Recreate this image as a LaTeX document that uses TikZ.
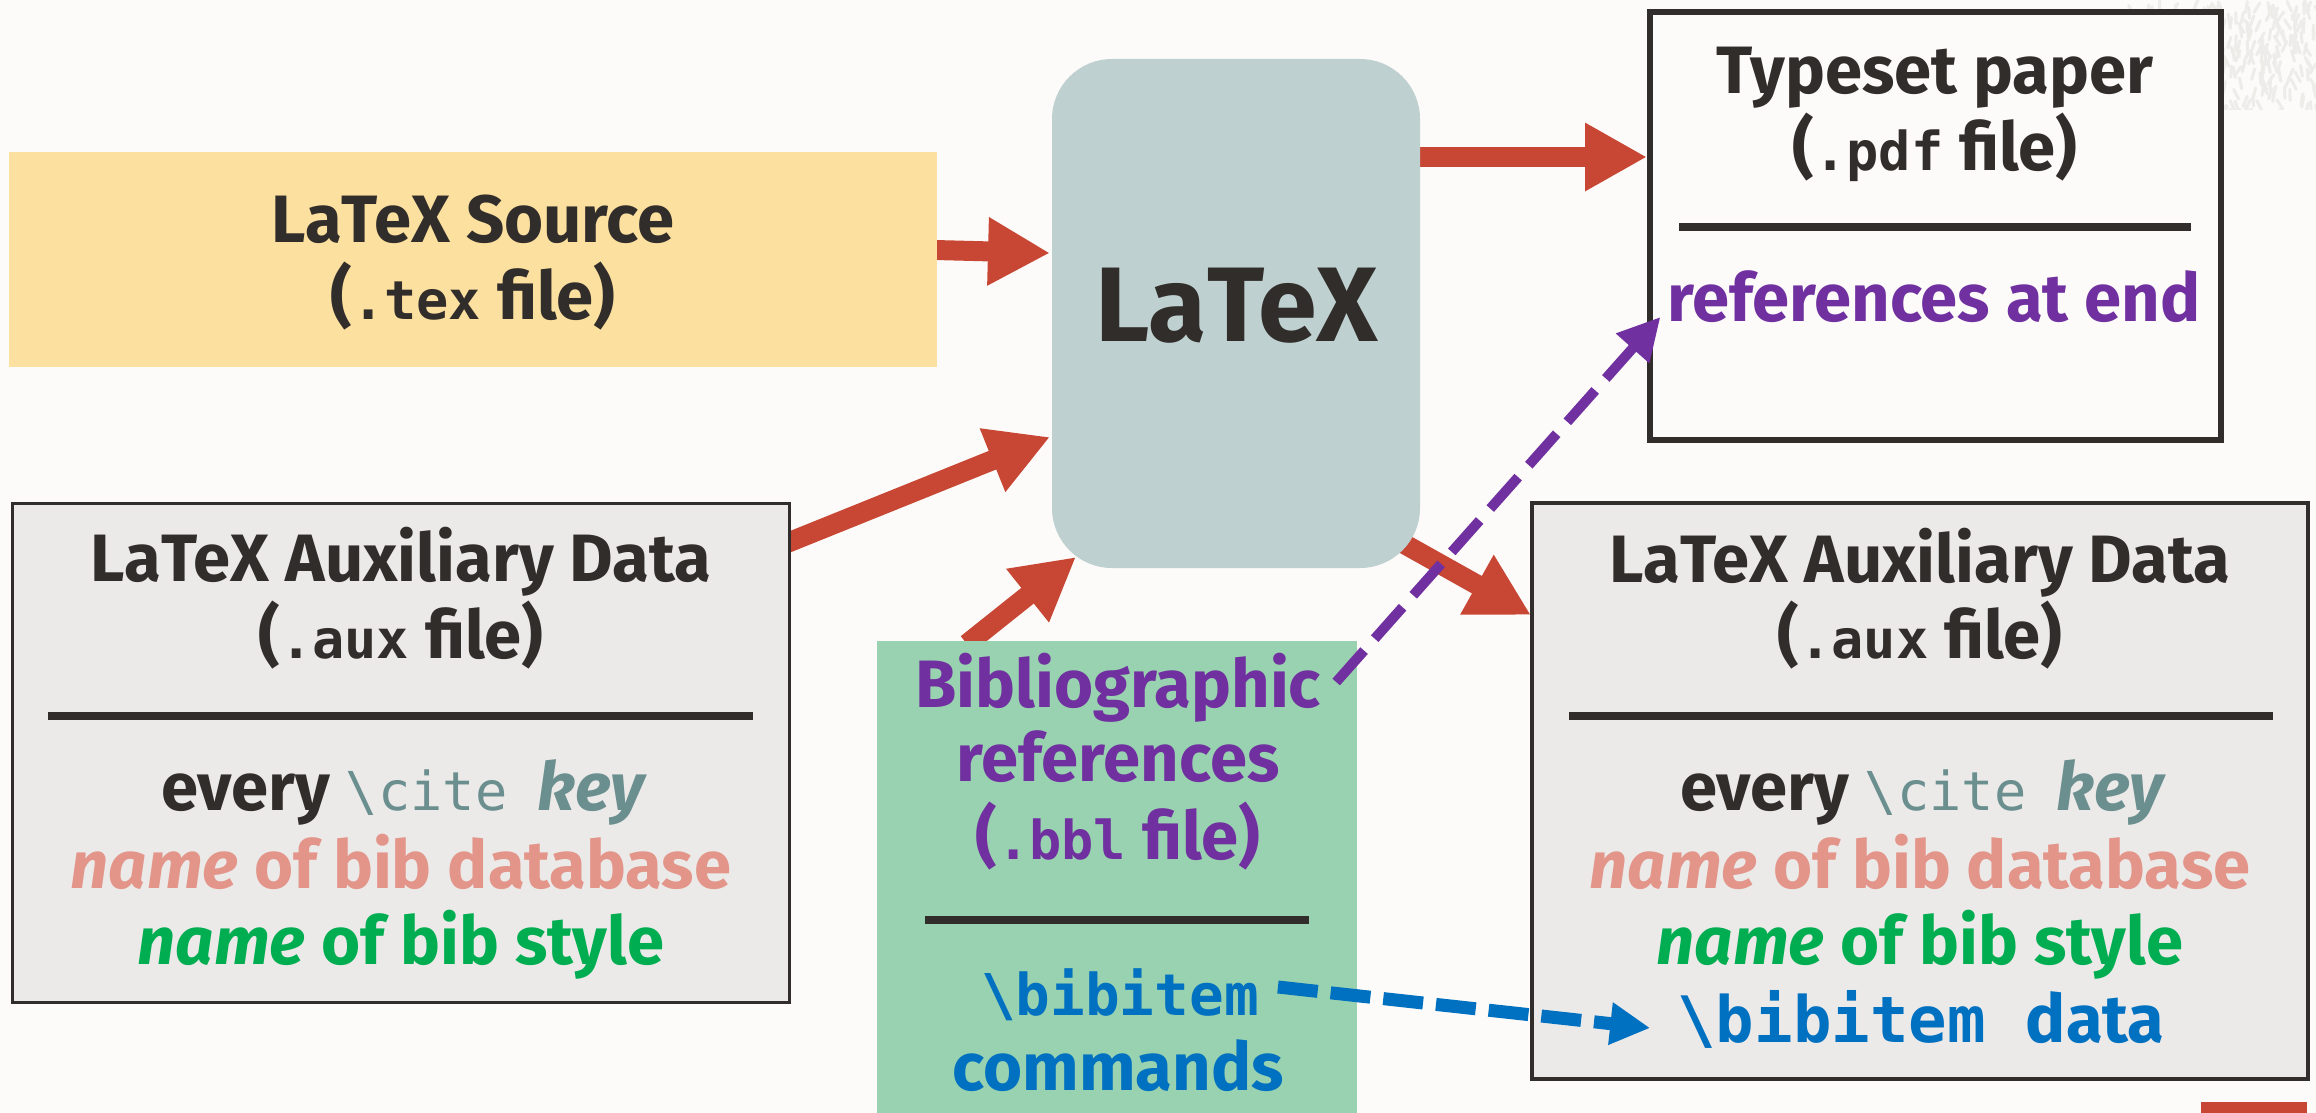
\documentclass[tikz,border=0pt]{standalone}
\usepackage{fontspec}
\setmainfont{Fira Sans}
\setmonofont{DejaVu Sans Mono}[Scale=0.8]
\usetikzlibrary{arrows.meta,calc}
\definecolor{bgc}{HTML}{FCFBF9}
\definecolor{yellowc}{HTML}{FCE09F}
\definecolor{latexc}{HTML}{BFD0D0}
\definecolor{greyc}{HTML}{EBEAE9}
\definecolor{greenc}{HTML}{99D2B0}
\definecolor{redc}{HTML}{C84634}
\definecolor{darkc}{HTML}{312D2A}
\definecolor{tealc}{HTML}{6B8E8E}
\definecolor{salmonc}{HTML}{E3958A}
\definecolor{greentc}{HTML}{00AD50}
\definecolor{bluec}{HTML}{0070C0}
\definecolor{purplec}{HTML}{7030A0}
\definecolor{texc}{HTML}{EEECE9}
\pgfdeclarelayer{back}
\pgfdeclarelayer{arr}
\pgfsetlayers{back,arr,main}
\begin{document}
\begin{tikzpicture}[x=1pt,y=-1pt,
  boxn/.style={rectangle,inner sep=0pt,outer sep=0pt,anchor=north west},
  txt/.style={anchor=base,inner sep=0pt,text=darkc,font=\fontsize{67}{80}\selectfont\bfseries},
  rulel/.style={darkc,line width=8pt},
  redarrow/.style={redc,line width=20pt,-{Triangle[length=62pt,width=64pt]}},
  purparrow/.style={purplec,line width=10pt,dash pattern=on 42pt off 16pt,-{Triangle[length=42pt,width=42pt]}},
  bluearrow/.style={bluec,line width=13pt,dash pattern=on 40pt off 13pt,-{Triangle[length=40pt,width=40pt]}}
]
\begin{pgfonlayer}{back}
\fill[bgc] (0,0) rectangle (2316,1113);
\begin{scope}
\clip (2125,0) rectangle (2316,110);
\pgfmathsetseed{7}
\foreach \i in {1,...,320} {
  \pgfmathsetmacro\xx{2125+rnd*191}
  \pgfmathsetmacro\yy{rnd*110}
  \pgfmathsetmacro\aa{55+rnd*70}
  \draw[texc,line width=3pt,line cap=round] (\xx,\yy) -- ++(\aa:11);
}
\end{scope}
\end{pgfonlayer}
\useasboundingbox (0,0) rectangle (2316,1113);

% boxes
\node[boxn,fill=yellowc,minimum width=928pt,minimum height=215pt] (src) at (9,152) {};
\node[boxn,fill=latexc,rounded corners=60pt,minimum width=368pt,minimum height=509pt] (latex) at (1052,59) {};
\node[boxn,fill=bgc,draw=darkc,line width=6pt,minimum width=571pt,minimum height=428pt] (paper) at (1650,12) {};
\node[boxn,fill=greyc,draw=darkc,line width=3pt,minimum width=777pt,minimum height=499pt] (auxL) at (12,503) {};
\node[boxn,fill=greyc,draw=darkc,line width=3.5pt,minimum width=776pt,minimum height=576pt] (auxR) at (1532,503) {};
\node[boxn,fill=greenc,minimum width=480pt,minimum height=472pt] (bbl) at (877,641) {};
\node[boxn,fill=redc,minimum width=106pt,minimum height=11pt] (tab) at (2201,1102) {};

% rules
\draw[rulel] (1679,227) -- (2191,227);
\draw[rulel] (48,716) -- (753,716);
\draw[rulel] (925,920) -- (1309,920);
\draw[rulel] (1569,716) -- (2273,716);

% texts
\node[txt] (srcA) at (473,242) {LaTeX Source};
\node[txt] (srcB) at (473,319) {(\texttt{.tex} file)};
\node[txt,font=\fontsize{106}{120}\selectfont\bfseries] (latexT) at (1237,341) {LaTeX};
\node[txt] (papA) at (1935,94) {Typeset paper};
\node[txt] (papB) at (1935,171) {(\texttt{.pdf} file)};
\node[txt,text=purplec] (refend) at (1934,321) {references at end};

\node[txt] (lA) at (401,581) {LaTeX Auxiliary Data};
\node[txt] (lB) at (401,658) {(\texttt{.aux} file)};
\node[txt] (lC) at (403,810) {every {\color{tealc}\ttfamily\mdseries\textbackslash cite}\hspace{0.45em}{\color{tealc}\itshape key}};
\node[txt,text=salmonc] (lD) at (401,888) {\itshape name\upshape{} of bib database};
\node[txt,text=greentc] (lE) at (401,964) {\itshape name\upshape{} of bib style};

\node[txt] (rA) at (1920,582) {LaTeX Auxiliary Data};
\node[txt] (rB) at (1920,658) {(\texttt{.aux} file)};
\node[txt] (rC) at (1922,810) {every {\color{tealc}\ttfamily\mdseries\textbackslash cite}\hspace{0.45em}{\color{tealc}\itshape key}};
\node[txt,text=salmonc] (rD) at (1920,888) {\itshape name\upshape{} of bib database};
\node[txt,text=greentc] (rE) at (1920,964) {\itshape name\upshape{} of bib style};
\node[txt,text=bluec] (bibdata) at (1921,1042) {{\fontsize{80}{90}\ttfamily\textbackslash bibitem}\hspace{0.6em}data};

\node[txt,text=purplec] (bibl) at (1118,707) {Bibliographic};
\node[txt,text=purplec] (bblB) at (1118,781) {references};
\node[txt,text=purplec] (bblC) at (1118,859) {(\texttt{.bbl} file)};
\node[txt,text=bluec] (bibitem) at (1120,1015) {\fontsize{72}{80}\ttfamily\textbackslash bibitem};
\node[txt,text=bluec] (bblE) at (1118,1090) {commands};

% red arrows (beneath boxes)
\begin{pgfonlayer}{arr}
\draw[redarrow] ($(src.north east)+(-2,98)$) -- ($(latex.north west)+(-2,194)$);
\draw[redarrow] ($(auxL.north east)+(-2,40)$) -- ($(latex.north west)+(-2,378)$);
\draw[redarrow] ($(bbl.north west)+(90,3)$) -- ($(latex.south west)+(24,-11)$);
\draw[redarrow] ($(latex.north east)+(-2,98)$) -- ($(paper.north west)+(-3,145)$);
\draw[redarrow] ($(latex.south east)+(-30,-32)$) -- ($(auxR.north west)+(-1,112)$);
\end{pgfonlayer}

% dashed arrows
\draw[purparrow] ($(bibl.base east)+(15,-25)$) -- ($(refend.base west)+(-7,-4)$);
\draw[bluearrow] ($(bibitem.base east)+(19,-28)$) -- ($(bibdata.base west)+(-27,-14)$);
\end{tikzpicture}
\end{document}
